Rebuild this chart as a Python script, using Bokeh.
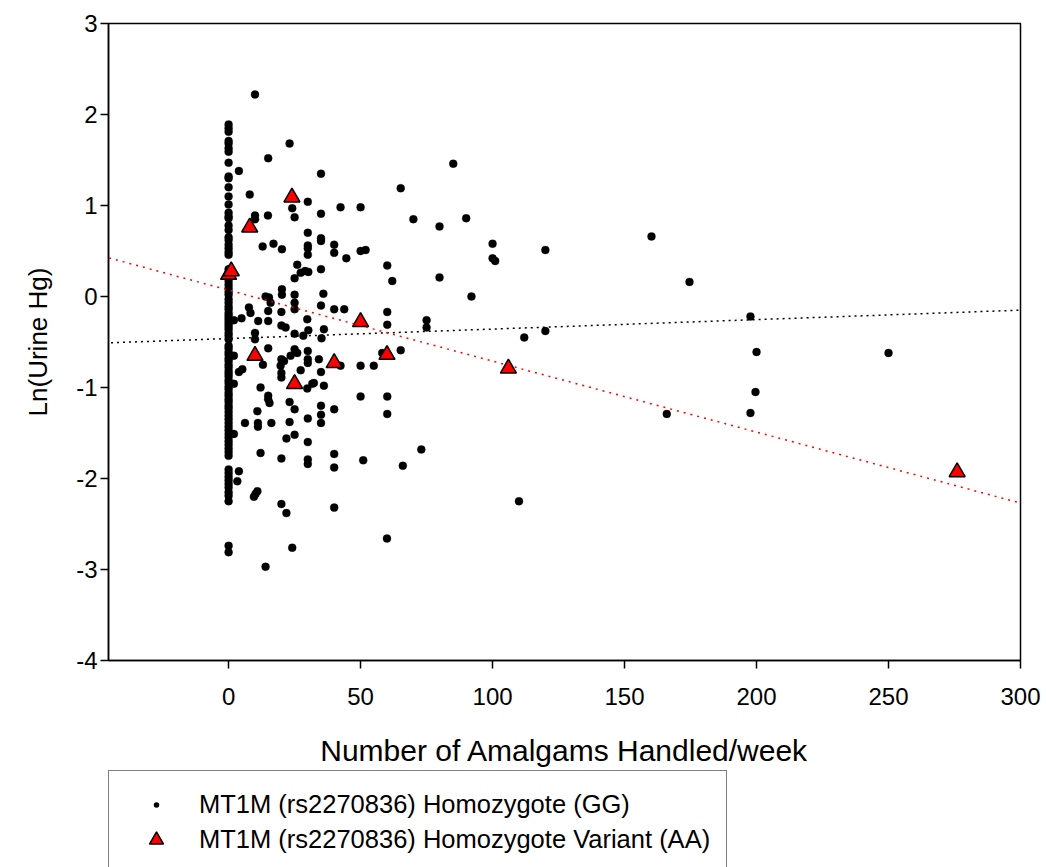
from bokeh.plotting import figure
from bokeh.layouts import column
from bokeh.models import (Range1d, Legend, LegendItem, FixedTicker, ColumnDataSource, Slope,
                          CustomJSTickFormatter)
from bokeh.embed import file_html
from bokeh.resources import INLINE

# ---------------- data ----------------
# GG: column of points at 0 amalgams/week
gg_zero_y = [1.89, 1.85, 1.81, 1.71, 1.68, 1.63, 1.59, 1.47, 1.32, 1.30, 1.20, 1.10, 1.01,
             0.92, 0.88, 0.86, 0.78, 0.73, 0.65, 0.62, 0.57, 0.53, 0.49, 0.46,
             0.30, 0.25, 0.17, 0.13, 0.09, 0.05, 0.02, -0.03, -0.07, -0.11, -0.14, -0.18,
             -0.21, -0.24, -0.27, -0.30, -0.33, -0.36, -0.40, -0.43, -0.47, -0.54, -0.57,
             -0.61, -0.64, -0.68, -0.71, -0.75, -0.78, -0.82, -0.85, -0.88, -0.92, -0.95,
             -0.99, -1.02, -1.06, -1.09, -1.13, -1.16, -1.20, -1.23, -1.27, -1.31, -1.35,
             -1.39, -1.43, -1.47, -1.51, -1.55, -1.59, -1.63, -1.67, -1.71, -1.75, -1.90,
             -1.94, -1.98, -2.02, -2.06, -2.10, -2.15, -2.19, -2.25, -2.74, -2.81]

# GG: other points
gg_x = [23.1, 15, 3.9, 35, 8, 30, 24.1, 25, 35, 42.4, 10, 10, 14.9, 12.9, 17, 20.2, 30, 30, 30, 30,
        35, 35, 40, 40, 44.6, 26, 29, 27.3, 30.2, 35, 25, 20.2, 20.2, 14, 15.3, 25, 35.9,
        7.7, 8.3, 4.9, 2, 11.2, 15, 15, 15.9, 20, 25, 25, 29.8, 35, 40, 43.8, 20, 21.6, 25,
        28.3, 30.2, 36.1, 35.2, 10, 10, 15, 13, 2, 20, 21, 19.7, 20, 20, 23.5, 25, 26, 30,
        30, 30, 34.2, 35, 27.3, 3.9, 5.2, 2, 12.1, 29.8, 31.7, 32.3, 36.1, 15, 15, 15.5,
        23.1, 25, 10.9, 35, 35, 35, 40, 6.2, 11.1, 11.1, 16.2, 23.1, 30, 2, 21.9, 25, 30,
        12.1, 20, 30, 30, 40, 40, 3.9, 3.3, 10.9, 10.2, 9.6, 20, 21.9, 40, 24.1, 14, 10,
        85.1, 65.2, 50, 70, 79.9, 90, 100, 100, 101, 120, 50, 51.9, 60.1, 62, 79.9, 92,
        60.1, 60.1, 75, 75, 112, 120, 65.2, 58.2, 50, 55, 42.4, 50, 60.1, 60.1, 73, 51, 66,
        60, 110, 160.2, 174.6, 166, 197.7, 200, 199.6, 197.7, 250]
gg_y = [1.68, 1.52, 1.38, 1.35, 1.12, 1.04, 0.97, 0.87, 0.91, 0.98, 0.89, 0.85, 0.89, 0.55,
        0.58, 0.52, 0.70, 0.56, 0.53, 0.46, 0.64, 0.61, 0.57, 0.48, 0.42, 0.35, 0.28, 0.26,
        0.27, 0.30, 0.20, 0.08, 0.02, 0.00, -0.01, 0.02, 0.03,
        -0.12, -0.18, -0.24, -0.26, -0.27, -0.16, -0.27, -0.07, -0.17, -0.07, -0.14, -0.25,
        -0.10, -0.14, -0.14, -0.32, -0.34, -0.41, -0.43, -0.37, -0.36, -0.46, -0.40, -0.47,
        -0.57, -0.75, -0.65, -0.69, -0.71, -0.76, -0.84, -0.89, -0.65, -0.58, -0.62, -0.60,
        -0.69, -0.73, -0.69, -0.83, -0.81, -0.83, -0.80, -0.96, -1.00, -1.01, -0.96, -0.95,
        -0.98, -1.09, -1.13, -1.17, -1.16, -1.24, -1.26, -1.20, -1.30, -1.39, -1.24, -1.39,
        -1.39, -1.43, -1.39, -1.38, -1.34, -1.51, -1.56, -1.52, -1.60, -1.72, -1.78, -1.79,
        -1.84, -1.73, -1.88, -1.92, -2.03, -2.14, -2.17, -2.20, -2.28, -2.38, -2.32, -2.76,
        -2.97, 2.22,
        1.46, 1.19, 0.98, 0.85, 0.77, 0.86, 0.58, 0.42, 0.39, 0.51, 0.50, 0.51, 0.34, 0.17,
        0.21, 0.00, -0.17, -0.31, -0.26, -0.34, -0.45, -0.38, -0.59, -0.62, -0.76, -0.76,
        -0.76, -1.10, -1.10, -1.29, -1.68, -1.80, -1.86, -2.66, -2.25, 0.66, 0.16, -1.29,
        -0.22, -0.61, -1.05, -1.28, -0.62]

# AA (homozygote variant)
aa_x = [0, 1, 8, 24, 10, 25, 40, 50, 60, 106, 276]
aa_y = [0.24, 0.28, 0.76, 1.09, -0.65, -0.96, -0.73, -0.28, -0.64, -0.79, -1.93]

# regression lines (intercept, slope)
gg_fit = (-0.462, 0.00104)
aa_fit = (0.070, -0.0078)

x_ticks = [0, 50, 100, 150, 200, 250, 300]
y_ticks = [-4, -3, -2, -1, 0, 1, 2, 3]
x_lim = (-45.5, 300)
y_lim = (-4, 3)

labels = ["MT1M (rs2270836) Homozygote (GG)", "MT1M (rs2270836) Homozygote Variant (AA)"]

# ---------------- main figure ----------------
FONT = "Liberation Sans"
p = figure(width=1046, height=769, output_backend="svg", toolbar_location=None,
           x_range=Range1d(*x_lim), y_range=Range1d(*y_lim),
           min_border_left=108, min_border_right=26, min_border_top=23, min_border_bottom=109)
p.xgrid.visible = False
p.ygrid.visible = False
p.outline_line_color = "black"
p.outline_line_width = 1.5
p.outline_line_alpha = 1.0
p.background_fill_color = "white"
p.border_fill_color = "white"

fmt = "return tick.toFixed(0);"
for ax in (p.xaxis[0], p.yaxis[0]):
    ax.formatter = CustomJSTickFormatter(code=fmt)
    ax.major_tick_out = 8
    ax.major_tick_in = 0
    ax.minor_tick_out = 0
    ax.minor_tick_in = 0
    ax.axis_line_width = 1.5
    ax.major_tick_line_width = 1.5
    ax.axis_line_color = "black"
    ax.major_tick_line_color = "black"
    ax.major_label_text_font = FONT
    ax.major_label_text_font_size = "24px"
    ax.major_label_text_color = "black"
    ax.axis_label_text_font = FONT
    ax.axis_label_text_font_style = "normal"
    ax.axis_label_text_color = "black"

p.xaxis.ticker = FixedTicker(ticks=x_ticks)
p.yaxis.ticker = FixedTicker(ticks=y_ticks)
p.xaxis.axis_label = "Number of Amalgams Handled/week"
p.yaxis.axis_label = "Ln(Urine Hg)"
p.xaxis.axis_label_text_font_size = "30px"
p.yaxis.axis_label_text_font_size = "26px"
p.xaxis.major_label_standoff = 19
p.yaxis.major_label_standoff = 3
p.xaxis.axis_label_standoff = 26
p.yaxis.axis_label_standoff = 20

# regression lines
p.add_layout(Slope(gradient=gg_fit[1], y_intercept=gg_fit[0], line_color="black",
                   line_width=1.5, line_dash="2 4"))
p.add_layout(Slope(gradient=aa_fit[1], y_intercept=aa_fit[0], line_color="#ff0000",
                   line_width=1.5, line_dash="2 5"))

gg_src = ColumnDataSource(dict(x=[0] * len(gg_zero_y) + gg_x, y=gg_zero_y + gg_y))
aa_src = ColumnDataSource(dict(x=aa_x, y=aa_y))
p.scatter("x", "y", source=gg_src, marker="circle", size=8, fill_color="black",
          line_color="black", line_width=0.3)
p.scatter("x", "y", source=aa_src, marker="triangle", size=16, fill_color="#ff0000",
          line_color="black", line_width=1.5)

# ---------------- legend strip below ----------------
q = figure(width=1046, height=98, output_backend="svg", toolbar_location=None,
           x_range=Range1d(-1000, -999), y_range=Range1d(-1000, -999),
           x_axis_type=None, y_axis_type=None,
           min_border_left=0, min_border_right=0, min_border_top=0, min_border_bottom=0)
q.xgrid.visible = False
q.ygrid.visible = False
q.outline_line_color = None
q.background_fill_color = "white"
q.border_fill_color = "white"

# same series, drawn here only as legend keys (outside this strip's ranges)
gg_key = q.scatter("x", "y", source=gg_src, marker="circle", fill_color="black",
                   line_color="white", line_width=8.5)
aa_key = q.scatter("x", "y", source=aa_src, marker="triangle", fill_color="#ff0000",
                   line_color="black", line_width=1.5)

legend = Legend(items=[LegendItem(label=labels[0], renderers=[gg_key]),
                       LegendItem(label=labels[1], renderers=[aa_key])],
                location=(0, -7), orientation="vertical", padding=16, spacing=0,
                label_standoff=12, glyph_width=62, glyph_height=35, label_height=35,
                label_width=508,
                label_text_font=FONT, label_text_font_size="25.5px",
                label_text_color="black",
                border_line_color="black", border_line_width=1.5,
                background_fill_color="white", background_fill_alpha=1.0, margin=0)
q.add_layout(legend, "center")

layout = column(p, q, spacing=0)
open("out.html", "w").write(file_html(layout, INLINE))
